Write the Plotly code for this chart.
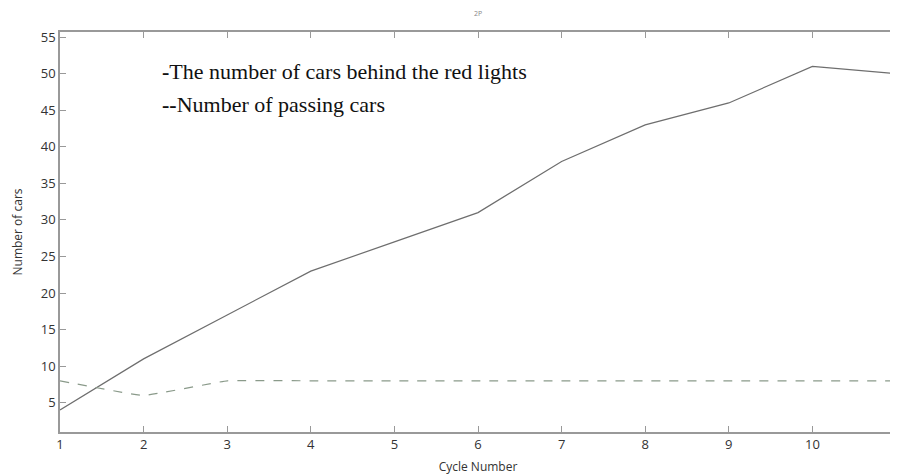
import plotly.graph_objects as go

cycles = [1, 2, 3, 4, 5, 6, 7, 8, 9, 10, 11]
cars_behind_red = [4, 11, 17, 23, 27, 31, 38, 43, 46, 51, 50]
passing_cars = [8, 6, 8, 8, 8, 8, 8, 8, 8, 8, 8]
x_ticks = [1, 2, 3, 4, 5, 6, 7, 8, 9, 10, 11]
y_ticks = [5, 10, 15, 20, 25, 30, 35, 40, 45, 50, 55]

fig = go.Figure()
fig.add_trace(go.Scatter(x=cycles, y=cars_behind_red, mode="lines",
                         line=dict(color="#6e6e6e", width=1.2),
                         name="The number of cars behind the red lights", showlegend=False))
fig.add_trace(go.Scatter(x=cycles, y=passing_cars, mode="lines",
                         line=dict(color="#8a9a8a", width=1.2, dash="dash", shape="spline", smoothing=0.25),
                         name="Number of passing cars", showlegend=False))

axis_common = dict(showline=True, linecolor="#999999", linewidth=1.5, mirror="ticks",
                   ticks="inside", ticklen=6, tickcolor="#999999", showgrid=False, zeroline=False,
                   automargin=False,
                   tickfont=dict(family="Open Sans, sans-serif", size=13, color="#333333"))

fig.update_xaxes(range=[1, 11], tickvals=x_ticks,
                 title=dict(text="Cycle Number", font=dict(family="Open Sans, sans-serif", size=12, color="#333333"), standoff=10),
                 **axis_common)
fig.update_yaxes(range=[1, 55.7], tickvals=y_ticks,
                 title=dict(text="Number of cars", font=dict(family="Open Sans, sans-serif", size=12, color="#333333"), standoff=16),
                 **axis_common)

fig.add_annotation(x=0.12, y=0.90, xref="paper", yref="paper", xanchor="left", yanchor="middle",
                   text="<b>-</b>The number of cars behind the red lights", showarrow=False,
                   font=dict(family="Liberation Serif, Times New Roman, serif", size=22, color="#111111"))
fig.add_annotation(x=0.12, y=0.82, xref="paper", yref="paper", xanchor="left", yanchor="middle",
                   text="<b>--</b>Number of passing cars", showarrow=False,
                   font=dict(family="Liberation Serif, Times New Roman, serif", size=22, color="#111111"))
fig.add_annotation(x=0.5, y=1.0, xref="paper", yref="paper", xanchor="center", yanchor="bottom", yshift=12,
                   text="2P", showarrow=False,
                   font=dict(family="Open Sans, sans-serif", size=7, color="#888888"))

fig.update_layout(width=890, height=467, margin=dict(l=52, r=2, t=24, b=43),
                  paper_bgcolor="white", plot_bgcolor="white")
fig.write_html("out.html")
